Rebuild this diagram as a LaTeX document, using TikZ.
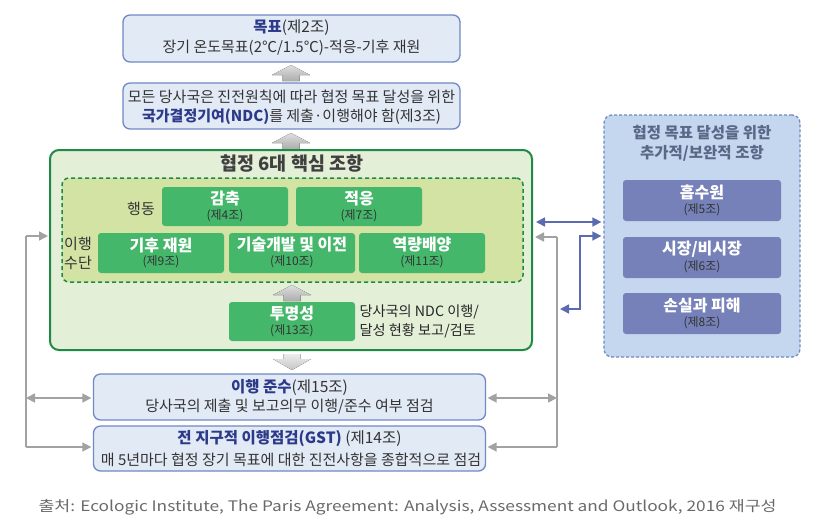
\documentclass[tikz,border=0pt]{standalone}
\usepackage{fontspec}
\setmainfont{Noto Sans CJK KR}
\usetikzlibrary{arrows.meta,calc}
\definecolor{bFill}{HTML}{E2EAF6}
\definecolor{bBorder}{HTML}{7089C4}
\definecolor{navy}{HTML}{2D3A8A}
\definecolor{gBorder}{HTML}{1F8A45}
\definecolor{gFill}{HTML}{E4EFD8}
\definecolor{dFill}{HTML}{D2E3A4}
\definecolor{gBox}{HTML}{45B76B}
\definecolor{rFill}{HTML}{C4D7EE}
\definecolor{rTitle}{HTML}{5A6888}
\definecolor{pBox}{HTML}{7581B8}
\definecolor{bArrow}{HTML}{5A6BB2}
\definecolor{gArrow}{HTML}{A2A2A2}
\definecolor{txt}{HTML}{333333}
\definecolor{foot}{HTML}{6A6A6A}
\tikzset{mytip/.tip={Triangle[length=9pt,width=9pt]}}
\newcommand\myfatup[2]{% tip x, tip y
  \fill[top color=gray!25, bottom color=gray!65]
    (#1,#2) -- ++(19,10) -- ++(-10.5,0) -- ++(0,6) -- ++(-17,0) -- ++(0,-6) -- ++(-10.5,0) -- cycle;}
\newcommand\myfatdown[2]{% shaft top y
  \fill[top color=gray!15, bottom color=gray!45]
    (#1-8.5,#2) -- ++(17,0) -- ++(0,5) -- ++(10.5,0) -- ++(-19,11) -- ++(-19,-11) -- ++(10.5,0) -- cycle;}
\begin{document}
\begin{tikzpicture}[x=1pt,y=-1pt,
  font=\fontsize{15}{18}\selectfont, text=txt,
  bluebox/.style={draw=bBorder, fill=bFill, line width=1.3pt, rounded corners=7pt,
    minimum width=392pt, inner sep=0pt, align=center},
  gbox/.style={fill=gBox, rounded corners=3pt, minimum width=126pt, minimum height=39pt,
    inner sep=0pt, align=center},
  pbox/.style={fill=pBox, rounded corners=3pt, minimum width=158pt, minimum height=41pt,
    inner sep=0pt, align=center},
  ttl/.style={font=\fontsize{16}{18}\selectfont\bfseries, text=white},
  sub/.style={font=\fontsize{12}{13}\selectfont, text=txt},
  gline/.style={draw=gArrow, line width=1.6pt},
  bline/.style={draw=bArrow, line width=1.6pt}
]
\useasboundingbox[fill=white] (0,0) rectangle (826,531);

% top boxes
\node[bluebox, minimum width=337pt, minimum height=47pt] (goal) at (291.5,38.5) {};
\node at (291.5,27.5) {\fontsize{15.5}{17}\selectfont\textcolor{navy}{\bfseries 목표}(제2조)};
\node at (291.5,48) {장기 온도목표(2℃/1.5℃)-적응-기후 재원};

\node[bluebox, minimum width=337pt, minimum height=46pt] (ndc) at (291.5,106) {};
\node at (291.5,97) {모든 당사국은 진전원칙에 따라 협정 목표 달성을 위한};
\node at (291.5,117) {\textcolor{navy}{\bfseries 국가결정기여(NDC)}를 제출·이행해야 함(제3조)};

\myfatup{291}{65}
\myfatup{291}{133}

% green outer
\node[draw=gBorder, fill=gFill, line width=2pt, rounded corners=9pt,
  minimum width=482pt, minimum height=200pt] (green) at (291,250) {};
\node[font=\fontsize{18.5}{20}\selectfont\bfseries, text=black!75] (gtitle) at (292,164) {협정 6대 핵심 조항};
\node[draw=gBorder, dashed, dash pattern=on 4pt off 3pt, fill=dFill, line width=1.5pt,
  rounded corners=7pt, minimum width=461pt, minimum height=104pt] (inner) at (292.5,230) {};

\node (act) at (141,209) {행동};
\node[align=center, font=\fontsize{15}{19}\selectfont] (mean) at (78,253) {이행\\수단};

\node[gbox] (mit) at (225,206.5) {};
\node[ttl] at (225,199) {감축};
\node[sub] at (225,215.5) {(제4조)};
\node[gbox] (adp) at (359,206.5) {};
\node[ttl] at (359,199) {적응};
\node[sub] at (359,215.5) {(제7조)};

\node[gbox, minimum height=40pt] (fin) at (161,253) {};
\node[ttl] at (161,245) {기후 재원};
\node[sub] at (161,262) {(제9조)};
\node[gbox, minimum height=40pt] (tech) at (292,253) {};
\node[ttl] at (292,245) {기술개발 및 이전};
\node[sub] at (292,262) {(제10조)};
\node[gbox, minimum height=40pt] (cap) at (422,253) {};
\node[ttl] at (422,245) {역량배양};
\node[sub] at (422,262) {(제11조)};

\myfatup{292}{285}

\node[gbox] (trans) at (292,321.5) {};
\node[ttl] at (292,314) {투명성};
\node[sub] at (292,330.5) {(제13조)};
\node[anchor=west, align=left, font=\fontsize{14.2}{19}\selectfont, text=black!85] (tnote) at (356,321.5)
  {당사국의 NDC 이행/\\달성 현황 보고/검토};

% right box
\node[draw=bBorder, dashed, dash pattern=on 3pt off 2pt, fill=rFill, line width=1.3pt,
  rounded corners=8pt, minimum width=196pt, minimum height=242pt] (right) at (702,236) {};
\node[align=center, font=\fontsize{15.5}{20}\selectfont\bfseries, text=rTitle] (rtitle) at (702,143)
  {협정 목표 달성을 위한\\추가적/보완적 조항};
\node[pbox] (sink) at (702,200.5) {};
\node[ttl] at (702,192.5) {흡수원};
\node[sub] at (702,210) {(제5조)};
\node[pbox] (mkt) at (702,257.5) {};
\node[ttl] at (702,249.5) {시장/비시장};
\node[sub] at (702,267) {(제6조)};
\node[pbox] (loss) at (702,313.5) {};
\node[ttl] at (702,305.5) {손실과 피해};
\node[sub] at (702,323) {(제8조)};

% bottom boxes
\myfatdown{292}{354}
\node[bluebox, minimum width=392pt, minimum height=46pt] (comply) at (289.5,397) {};
\node at (289.5,387) {\fontsize{15.5}{17}\selectfont\textcolor{navy}{\bfseries 이행 준수}(제15조)};
\node at (289.5,407) {당사국의 제출 및 보고의무 이행/준수 여부 점검};
\node[bluebox, minimum width=392pt, minimum height=45pt] (gst) at (289.5,448.5) {};
\node at (289.5,439) {\fontsize{15.5}{17}\selectfont\textcolor{navy}{\bfseries 전 지구적 이행점검(GST)} (제14조)};
\node at (291,460) {매 5년마다 협정 장기 목표에 대한 진전사항을 종합적으로 점검};

% left gray connector
\coordinate (lt) at (26,236);
\coordinate (lm) at (26,398);
\coordinate (lb) at (26,447);
\draw[gline] (lt) -- (lb);
\draw[gline,-{mytip}, shorten >=1pt] (lt) -- (green.west |- lt);
\draw[gline,{mytip}-{mytip}, shorten >=1.5pt] (lm) -- (comply.west |- lm);
\draw[gline,-{mytip}, shorten >=1.5pt] (lb) -- (gst.west |- lb);

% right gray connector
\coordinate (rt) at (557,237);
\coordinate (rm) at (557,398);
\coordinate (rb) at (557,447);
\draw[gline] (rt) -- (rb);
\draw[gline,-{mytip}, shorten >=2pt] (rt) -- (green.east |- rt);
\draw[gline,{mytip}-{mytip}, shorten >=1.5pt] (rm) -- (comply.east |- rm);
\draw[gline,-{mytip}, shorten >=1.5pt] (rb) -- (gst.east |- rb);

% blue connectors
\coordinate (ba) at (570,222);
\draw[bline,{mytip}-{mytip}, shorten <=3pt, shorten >=2pt] (green.east |- ba) -- (right.west |- ba);
\coordinate (bb) at (580,236);
\coordinate (bc) at (580,309);
\coordinate (bd) at (560,309);
\draw[bline,{mytip}-{mytip}, shorten >=2pt] (bd) -- (bc) -- (bb) -- (right.west |- bb);

% footer
\node[anchor=west, text=foot, font=\fontsize{14.5}{16}\selectfont] (src) at (35,507)
  {\resizebox{738pt}{\height}{출처: Ecologic Institute, The Paris Agreement: Analysis, Assessment and Outlook, 2016 재구성}};
\end{tikzpicture}
\end{document}
